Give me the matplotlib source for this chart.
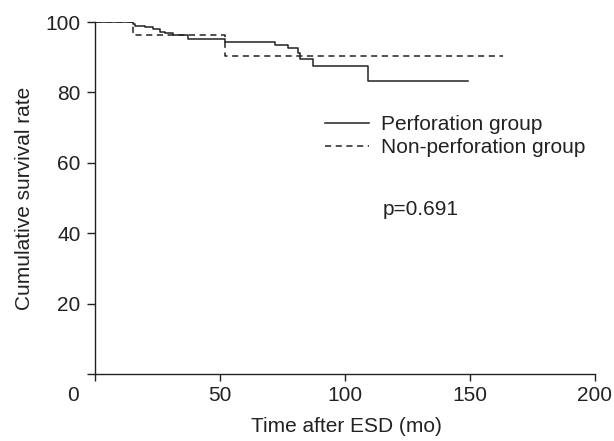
import matplotlib
matplotlib.use("Agg")
import matplotlib.pyplot as plt

# Data
perf_time = [0, 15, 16, 20, 23, 26, 28, 31, 37, 52, 72, 77, 81, 82, 87, 109, 149]
perf_surv = [100, 99.3, 99.0, 98.5, 98.0, 97.3, 96.8, 96.3, 95.1, 94.4, 93.5, 92.5, 91.2, 89.4, 87.6, 83.3, 83.3]
nonperf_time = [0, 15, 52, 163]
nonperf_surv = [100, 96.3, 90.2, 90.2]
xticks = [0, 50, 100, 150, 200]
xticklabels = ["", "50", "100", "150", "200"]
yticks = [0, 20, 40, 60, 80, 100]
yticklabels = ["", "20", "40", "60", "80", "100"]

plt.rcParams['font.family'] = ['Liberation Sans', 'DejaVu Sans']
ink = "#222222"
fs = 15

fig = plt.figure(figsize=(6.14, 4.41), dpi=100)
ax = fig.add_axes([95/614, 1-374/441, 500/614, 352/441])

ax.step(perf_time, perf_surv, where='post', color=ink, lw=1.1, label="Perforation group")
ax.step(nonperf_time, nonperf_surv, where='post', color=ink, lw=1.1, ls=(0, (4, 3)), label="Non-perforation group")

ax.set_xlim(0, 200)
ax.set_ylim(0, 100)
ax.set_xticks(xticks)
ax.set_xticklabels(xticklabels)
ax.set_yticks(yticks)
ax.set_yticklabels(yticklabels)
for s in ["top", "right"]:
    ax.spines[s].set_visible(False)
for s in ["left", "bottom"]:
    ax.spines[s].set_color(ink)
    ax.spines[s].set_linewidth(1.0)
ax.tick_params(axis='x', direction='out', length=4.7, width=1.0, colors=ink, labelsize=fs, pad=4.0)
ax.tick_params(axis='y', direction='out', length=5.5, width=1.0, colors=ink, labelsize=fs, pad=5)

ax.text(-0.045, -0.034, "0", transform=ax.transAxes, ha='center', va='top', fontsize=fs, color=ink)

ax.set_xlabel("Time after ESD (mo)", fontsize=fs, color=ink)
ax.set_ylabel("Cumulative survival rate", fontsize=fs, color=ink)
ax.xaxis.set_label_coords(0.503, -0.122)
ax.yaxis.set_label_coords(-0.122, 0.5)

leg = ax.legend(loc='upper left', bbox_to_anchor=(0.46, 0.735), frameon=False, fontsize=fs,
                handlelength=2.1, handletextpad=0.6, labelspacing=0.17,
                borderpad=0, borderaxespad=0)
for t in leg.get_texts():
    t.set_color(ink)

ax.text(0.576, 0.452, "p=0.691", transform=ax.transAxes, fontsize=fs, color=ink, va='baseline')

fig.savefig("out.png", dpi=100)
